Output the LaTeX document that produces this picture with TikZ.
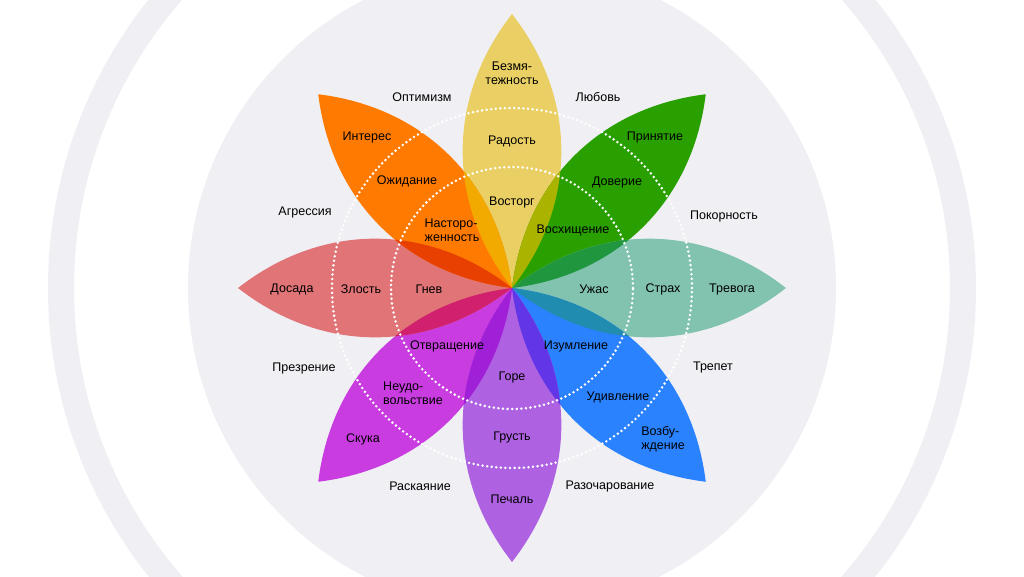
\documentclass[tikz,border=0pt]{standalone}
\usepackage{fontspec}
\setmainfont{Liberation Sans}
\usepackage{tikz}

\definecolor{bggray}{HTML}{F0F0F4}
\definecolor{joyc}{HTML}{EAD064}
\definecolor{anticipc}{HTML}{FF7A00}
\definecolor{angerc}{HTML}{E07476}
\definecolor{trustc}{HTML}{29A000}
\definecolor{fearc}{HTML}{82C3B0}
\definecolor{surprisec}{HTML}{2A82FF}
\definecolor{sadc}{HTML}{AE62E2}
\definecolor{disgustc}{HTML}{C83CE0}
% overlaps of neighbouring petals
\definecolor{joyanticip}{HTML}{F2A900}
\definecolor{joytrust}{HTML}{A9B300}
\definecolor{anticipanger}{HTML}{E84000}
\definecolor{trustfear}{HTML}{20963F}
\definecolor{fearsurprise}{HTML}{208CB0}
\definecolor{surprisesad}{HTML}{6236E6}
\definecolor{saddisgust}{HTML}{A020D8}
\definecolor{disgustanger}{HTML}{D0206E}

\newcommand{\petalpath}[1]{(0,0) to[bend left=38] (#1:274) to[bend left=38] (0,0)}

\begin{document}
\begin{tikzpicture}[
    x=1pt, y=1pt,
    emo/.style={font=\fontsize{12.5}{14}\selectfont, align=center, inner sep=1pt},
    emotwo/.style={emo, align=left},
    dots/.style={white, line width=2.8pt, line cap=round, dash pattern=on 0pt off 4.6pt},
]
\useasboundingbox (-512,-288) rectangle (512,288);
\clip (-512,-288) rectangle (512,288);
\fill[white] (-512,-288) rectangle (512,288);

% Background
\draw[bggray, line width=26pt] (0,0) circle (451);
\fill[bggray] (0,0) circle (324);

% Petals
\foreach \a/\col in {90/joyc, 45/trustc, 0/fearc, -45/surprisec, -90/sadc, -135/disgustc, 180/angerc, 135/anticipc}
    \fill[\col] \petalpath{\a};

% Overlaps
\foreach \a/\b/\col in {90/135/joyanticip, 90/45/joytrust, 135/180/anticipanger, 45/0/trustfear,
                        0/-45/fearsurprise, -45/-90/surprisesad, -90/-135/saddisgust, -135/180/disgustanger} {
    \begin{scope}
        \clip \petalpath{\a};
        \fill[\col] \petalpath{\b};
    \end{scope}
}

% Rings
\draw[dots] (0,0) circle (121);
\draw[dots] (0,0) circle (180);

% Nodes
\node[emo] (serenity) at (0,215) {Безмя-\\тежность};
\node[emo] (joy) at (0,147) {Радость};
\node[emo] (ecstasy) at (0,86) {Восторг};

\node[emo] (interest) at (-145,151) {Интерес};
\node[emo] (anticipation) at (-105,107) {Ожидание};
\node[emotwo] (vigilance) at (-60,58) {Насторо-\\женность};

\node[emo] (annoyance) at (-220,-1) {Досада};
\node[emo] (anger) at (-151,-1) {Злость};
\node[emo] (rage) at (-83,-1) {Гнев};

\node[emo] (acceptance) at (143,151) {Принятие};
\node[emo] (trust) at (105,106) {Доверие};
\node[emo] (admiration) at (61,58) {Восхищение};

\node[emo] (terror) at (82,-1) {Ужас};
\node[emo] (fear) at (151,-1) {Страх};
\node[emo] (apprehension) at (220,-1) {Тревога};

\node[emo] (amazement) at (64,-58) {Изумление};
\node[emo] (surprise) at (106,-109) {Удивление};
\node[emotwo] (distraction) at (151,-151) {Возбу-\\ждение};

\node[emo] (grief) at (0,-89) {Горе};
\node[emo] (sadness) at (0,-149) {Грусть};
\node[emo] (pensiveness) at (0,-211) {Печаль};

\node[emo] (loathing) at (-65,-58) {Отвращение};
\node[emotwo] (disgust) at (-99,-105) {Неудо-\\вольствие};
\node[emo] (boredom) at (-149,-151) {Скука};

% Dyads
\node[emo] (optimism) at (-90,191) {Оптимизм};
\node[emo] (love) at (86,191) {Любовь};
\node[emo] (aggression) at (-207,76) {Агрессия};
\node[emo] (submission) at (212,72) {Покорность};
\node[emo] (contempt) at (-208,-80) {Презрение};
\node[emo] (awe) at (201,-79) {Трепет};
\node[emo] (remorse) at (-92,-198) {Раскаяние};
\node[emo] (disapproval) at (98,-198) {Разочарование};

\end{tikzpicture}
\end{document}
